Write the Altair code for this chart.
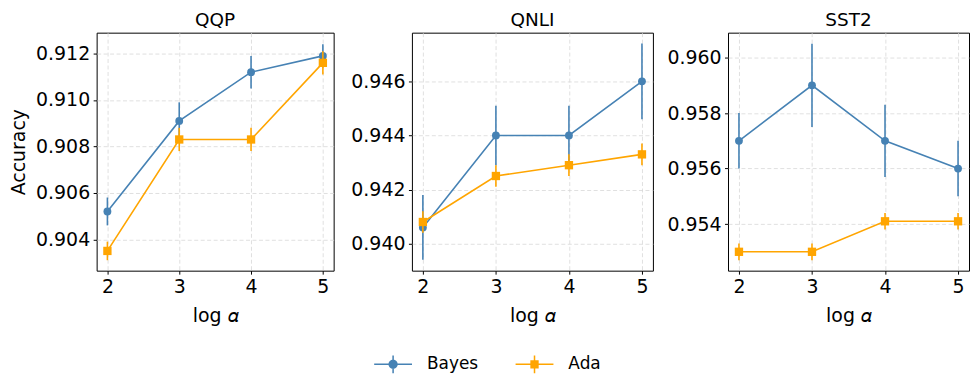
import altair as alt
import pandas as pd

# ---- data ----
log_alpha = [2, 3, 4, 5]
series_names = ["Bayes", "Ada"]
series_colors = ["#4682b4", "#ffa500"]

datasets = ["QQP", "QNLI", "SST2"]

bayes_mean = {
    "QQP": [0.9052, 0.9091, 0.9112, 0.9119],
    "QNLI": [0.9406, 0.9440, 0.9440, 0.9460],
    "SST2": [0.9570, 0.9590, 0.9570, 0.9560],
}
bayes_err = {
    "QQP": [0.0006, 0.0008, 0.0007, 0.0005],
    "QNLI": [0.0012, 0.0011, 0.0011, 0.0014],
    "SST2": [0.0010, 0.0015, 0.0013, 0.0010],
}
ada_mean = {
    "QQP": [0.9035, 0.9083, 0.9083, 0.9116],
    "QNLI": [0.9408, 0.9425, 0.9429, 0.9433],
    "SST2": [0.9530, 0.9530, 0.9541, 0.9541],
}
ada_err = {
    "QQP": [0.0004, 0.0005, 0.0005, 0.0005],
    "QNLI": [0.0004, 0.0004, 0.0004, 0.0004],
    "SST2": [0.0003, 0.0003, 0.0003, 0.0003],
}
y_domains = {
    "QQP": [0.90265, 0.9129],
    "QNLI": [0.9390, 0.9478],
    "SST2": [0.95232, 0.9609],
}
y_ticks = {
    "QQP": [0.904, 0.906, 0.908, 0.910, 0.912],
    "QNLI": [0.940, 0.942, 0.944, 0.946],
    "SST2": [0.954, 0.956, 0.958, 0.960],
}
panel_widths = {"QQP": 238, "QNLI": 242, "SST2": 242}
x_domain = [1.85, 5.15]

# legend glyphs: line + errorbar + marker (unit coordinates)
legend_paths = [
    "M-1,-0.04H1V0.04H-1Z M-0.04,-0.47H0.04V0.47H-0.04Z "
    "M0.245,0A0.245,0.245,0,1,1,-0.245,0A0.245,0.245,0,1,1,0.245,0Z",
    "M-1,-0.04H1V0.04H-1Z M-0.04,-0.47H0.04V0.47H-0.04Z "
    "M-0.22,-0.22H0.22V0.22H-0.22Z",
]

FONT = "DejaVu Sans"


def make_df(name):
    rows = []
    for s, means, errs in [("Bayes", bayes_mean[name], bayes_err[name]),
                           ("Ada", ada_mean[name], ada_err[name])]:
        for x, m, e in zip(log_alpha, means, errs):
            rows.append({"x": x, "y": m, "lo": m - e, "hi": m + e, "series": s})
    return pd.DataFrame(rows)


def legend_def():
    return alt.Legend(
        title=None, orient="none", direction="horizontal",
        legendX=278.7, legendY=314, symbolSize=1444,
        labelFontSize=17, labelFont=FONT, labelOffset=15,
        columnPadding=37, padding=0, symbolStrokeWidth=0,
        labelColor="#000")


def panel(name, first):
    df = make_df(name)
    xenc = alt.X(
        "x:Q",
        scale=alt.Scale(domain=x_domain, nice=False, zero=False),
        axis=alt.Axis(values=log_alpha, format="d", title="log 𝛼"),
    )
    yscale = alt.Scale(domain=y_domains[name], nice=False, zero=False)
    yenc = alt.Y(
        "y:Q",
        scale=yscale,
        axis=alt.Axis(values=y_ticks[name], format=".3f",
                      title="Accuracy" if first else None),
    )
    layers = []
    for s, col, shp, size in [("Bayes", series_colors[0], "circle", 62),
                              ("Ada", series_colors[1], "square", 70)]:
        base = alt.Chart(df).transform_filter(alt.datum.series == s)
        layers.append(base.mark_line(color=col, strokeWidth=1.6).encode(x=xenc, y=yenc))
        layers.append(base.mark_rule(color=col, strokeWidth=1.6).encode(
            x=xenc, y=alt.Y("lo:Q", scale=yscale), y2="hi:Q"))
        layers.append(base.mark_point(color=col, filled=True, opacity=1,
                                      shape=shp, size=size).encode(x=xenc, y=yenc))
    if first:
        leg = alt.Chart(df).transform_filter("false").mark_point(
            filled=True, opacity=1).encode(
            x=xenc, y=yenc,
            fill=alt.Fill("series:N",
                          scale=alt.Scale(domain=series_names, range=series_colors),
                          legend=legend_def()),
            shape=alt.Shape("series:N",
                            scale=alt.Scale(domain=series_names, range=legend_paths),
                            legend=legend_def()),
        )
        layers.append(leg)
    return alt.layer(*layers).properties(
        width=panel_widths[name], height=239,
        title=alt.TitleParams(name, fontSize=18.5, font=FONT, fontWeight="normal",
                              color="#000", offset=3),
    )


p1 = panel("QQP", True)
p2 = panel("QNLI", False)
p3 = panel("SST2", False)

inner = alt.hconcat(p1, p2, spacing=15.6)
chart = alt.hconcat(inner, p3, spacing=12).properties(
    padding={"left": 1, "top": 2, "right": 0, "bottom": 0}
).configure(
    font=FONT,
).configure_view(
    stroke="#000", strokeWidth=1,
).configure_axis(
    labelFont=FONT, titleFont=FONT, labelFontSize=19, titleFontSize=19,
    labelColor="#000", titleColor="#000", titleFontWeight="normal",
    tickSize=3.5, labelPadding=3.5, tickColor="#000", tickWidth=1,
    domain=False, grid=True, gridColor="#d8d8d8", gridDash=[4, 2.5],
    gridWidth=0.8,
).configure_axisY(titlePadding=7).configure_axisX(titlePadding=10)

chart.save("out.html", embed_options={"renderer": "svg", "actions": False})
